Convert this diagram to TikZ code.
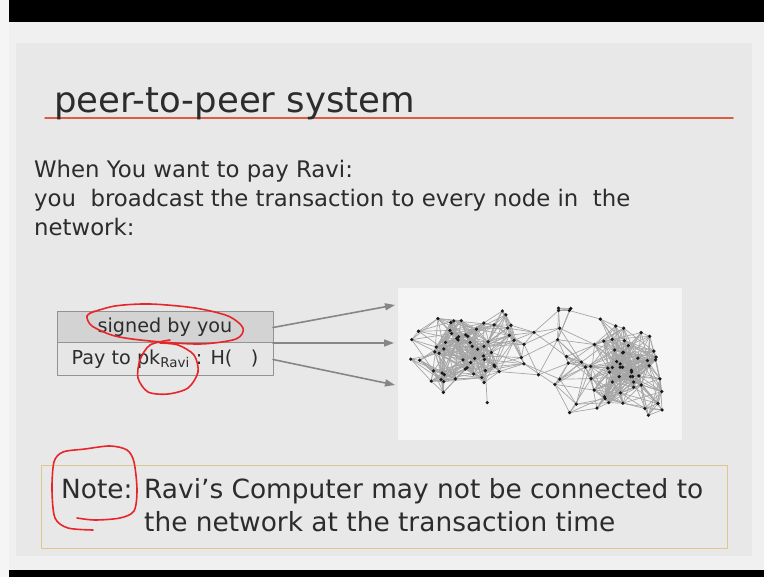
\documentclass[tikz,border=0pt]{standalone}
\usepackage{fontspec}
\setmainfont{DejaVu Sans}
\usetikzlibrary{positioning,arrows.meta}
\definecolor{slidetop}{HTML}{F0F0F0}
\definecolor{slidebg}{HTML}{E8E8E8}
\definecolor{netbg}{HTML}{F5F5F5}
\definecolor{inkgray}{HTML}{2C2C2C}
\definecolor{rowtop}{HTML}{D3D3D3}
\definecolor{rowlow}{HTML}{E6E6E6}
\definecolor{rulered}{HTML}{DD5A44}
\definecolor{penred}{HTML}{E8262A}
\definecolor{notegold}{HTML}{DCC88E}
\begin{document}
\begin{tikzpicture}[x=1pt, y=-1pt, line join=round, line cap=round, >={Triangle[length=10pt,width=7pt]}]
 \tikzset{
  slidetext/.style={inner sep=0pt, text=inkgray, font=\fontsize{22.8}{26}\selectfont},
  titletext/.style={inner sep=0pt, text=inkgray, font=\fontsize{35.5}{40}\selectfont},
  notetext/.style={inner sep=0pt, text=inkgray, font=\fontsize{26.4}{30}\selectfont},
  rowbox/.style={draw=gray!85, line width=1pt, minimum width=216pt, inner sep=0pt, outer sep=0pt, text=inkgray, font=\fontsize{19.2}{22}\selectfont},
  bcast/.style={->, draw=gray!95, line width=1.6pt},
  netedge/.style={draw=gray!70, line width=0.7pt},
  netdot/.style={fill=black!90},
  redink/.style={draw=penred, line width=1.6pt},
  notebox/.style={draw=notegold, line width=1pt, minimum width=686pt, minimum height=83pt}
 }
 \useasboundingbox (0,0) rectangle (764,577);
 % slide background
 \fill[white!96!black] (0,0) rectangle (764,577);
 \fill[slidetop] (9,22) rectangle (764,570);
 \fill[slidebg] (16,43) rectangle (752,556);
 \fill[black] (9,0) rectangle (764,22);
 \fill[black] (9,570) rectangle (764,577);
 \fill[netbg] (398,288) rectangle (682,440);
 % title
 \draw[rulered, line width=1.5pt] (45,118) -- (733,118);
 \node[titletext, anchor=base west] (title) at (54,113) {peer-to-peer system};
 % text
 \node[slidetext, anchor=base west] (when) at (34,178) {When You want to pay Ravi:};
 \node[slidetext, anchor=base west] (bcastline) at (34,207) {you\ \ broadcast the transaction to every node in\ \ the};
 \node[slidetext, anchor=base west] (netw) at (34,236) {network:};
 % transaction
 \node[rowbox, fill=rowtop, minimum height=31pt] (sign) at (165,327.5) {signed by you};
 \node[rowbox, fill=rowlow, minimum height=33pt, below=0pt of sign] (pay) {Pay to pk\textsubscript{Ravi} : H(\ \ \ )};
 \coordinate (hit1) at (395,305);
 \coordinate (hit2) at (394,343);
 \coordinate (hit3) at (395,385);
 \draw[bcast] (sign.east) -- (hit1);
 \draw[bcast] (sign.south east) -- (hit2);
 \draw[bcast] (pay.east) -- (hit3);
 % network
 \pgfmathsetseed{31}
 \def\nnet{128}
 \foreach \i in {1,...,\nnet}{
  \ifnum\i<46
   \pgfmathsetmacro\rx{462+36*(rand+rand)}
   \pgfmathsetmacro\ry{352+24*(rand+rand)}
  \else\ifnum\i<88
   \pgfmathsetmacro\rx{622+30*(rand+rand)}
   \pgfmathsetmacro\ry{372+26*(rand+rand)}
  \else
   \pgfmathsetmacro\rx{540+122*rand}
   \pgfmathsetmacro\ry{362+54*rand}
  \fi\fi
  \pgfmathsetmacro\rx{max(404,min(673,\rx))}
  \pgfmathsetmacro\ry{max(301,min(428,\ry))}
  \expandafter\xdef\csname netx\i\endcsname{\rx}
  \expandafter\xdef\csname nety\i\endcsname{\ry}
  \coordinate (n\i) at (\rx,\ry);
 }
 \foreach \i in {2,...,\nnet}{
  \pgfmathtruncatemacro\k{\i-1}
  \foreach \j in {1,...,\k}{
   \edef\xa{\csname netx\i\endcsname}\edef\ya{\csname nety\i\endcsname}
   \edef\xb{\csname netx\j\endcsname}\edef\yb{\csname nety\j\endcsname}
   \pgfmathsetmacro\dd{((\xa-\xb)/10)^2+((\ya-\yb)/10)^2}
   \pgfmathtruncatemacro\keep{(\dd<3.2) || ((\dd<17) && (rnd>0.55))}
   \ifnum\keep=1 \draw[netedge] (n\i) -- (n\j);\fi
  }
 }
 \foreach \i in {1,...,\nnet} \fill[netdot] (n\i) circle (1.8);
 % note
 \node[notebox] (note) at (384,507.5) {};
 \node[notetext, anchor=base west] (notelbl) at (61,499) {Note:};
 \node[notetext, anchor=base west] (noteA) at (144,499) {Ravi’s Computer may not be connected to};
 \node[notetext, anchor=base west] (noteB) at (144,532) {the network at the transaction time};
 % red pen marks
 \draw[redink] plot[smooth] coordinates {(90,313) (115,306) (150,304) (195,308) (228,316) (243,328) (236,339) (200,344) (150,341) (115,336) (92,326) (87,316) (95,311)};
 \draw[redink] plot[smooth] coordinates {(170,340) (150,345) (140,360) (138,378) (148,392) (168,394) (188,388) (198,372) (194,355) (178,345) (160,343)};
 \draw[redink] plot[smooth] coordinates {(93,530) (68,528) (55,518) (52,490) (54,462) (63,452) (85,449) (110,446) (127,450) (134,462) (137,490) (134,511) (120,518) (95,520) (77,518)};
\end{tikzpicture}
\end{document}
